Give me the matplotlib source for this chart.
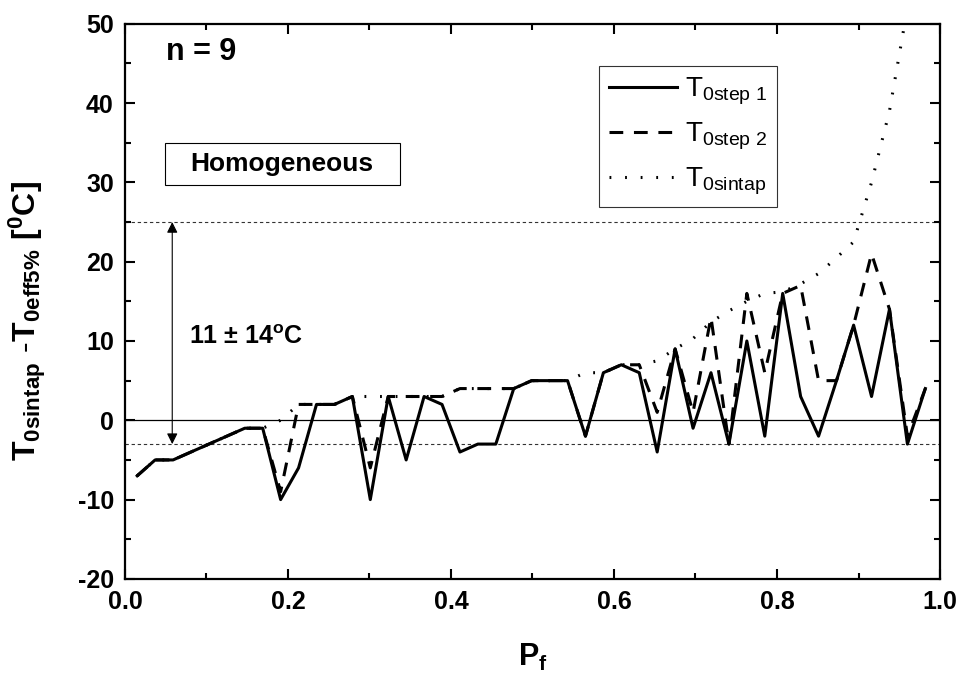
import numpy as np
import matplotlib
matplotlib.use("Agg")
import matplotlib.pyplot as plt
from matplotlib.patches import Rectangle
from matplotlib.ticker import MultipleLocator, FormatStrFormatter

plt.rcParams['font.family'] = ['Liberation Sans', 'DejaVu Sans']
plt.rcParams['font.weight'] = 'bold'
plt.rcParams['axes.unicode_minus'] = False
plt.rcParams['mathtext.fontset'] = 'custom'
plt.rcParams['mathtext.rm'] = 'Liberation Sans:weight=normal'
plt.rcParams['mathtext.bf'] = 'Liberation Sans:weight=bold'
plt.rcParams['mathtext.it'] = 'Liberation Sans:italic'

# failure probability grid
pf = [0.015, 0.037, 0.059, 0.081, 0.103, 0.125, 0.147, 0.169, 0.191, 0.213,
      0.235, 0.257, 0.279, 0.301, 0.323, 0.345, 0.367, 0.389, 0.411, 0.433,
      0.455, 0.477, 0.499, 0.521, 0.543, 0.565, 0.587, 0.609, 0.631, 0.653,
      0.675, 0.697, 0.719, 0.741, 0.763, 0.785, 0.807, 0.829, 0.851, 0.873,
      0.894, 0.916, 0.938, 0.960, 0.982]

# T0sintap - T0eff5% for each estimate [C]
t_step1 = [-7, -5, -5, -4, -3, -2, -1, -1, -10, -6,
           2, 2, 3, -10, 3, -5, 3, 2, -4, -3,
           -3, 4, 5, 5, 5, -2, 6, 7, 6, -4,
           9, -1, 6, -3, 10, -2, 16, 3, -2, 5,
           12, 3, 14, -3, 4]
t_step2 = [-7, -5, -5, -4, -3, -2, -1, -1, -9, 2,
           2, 2, 3, -6, 3, 3, 3, 3, 4, 4,
           4, 4, 5, 5, 5, -2, 6, 7, 7, 1,
           9, 1, 13, -3, 16, 6, 16, 17, 5, 5,
           12, 21, 14, -2, 4]
t_sintap = [-7, -5, -5, -4, -3, -2, -1, -1, 0, 2,
            2, 2, 3, 3, 3, 3, 3, 3, 4, 4,
            4, 4, 5, 5, 5, 6, 6, 7, 7, 7.5,
            9, 10.3, 12.4, 13.8, 15, 16, 16.2, 17.2, 18.5, 20.5,
            22.5, 30, 39, 52, np.nan]

scatter_band = (-3, 25)

fig = plt.figure(figsize=(9.65, 6.88), dpi=100)
ax = fig.add_axes([0.1295, 0.1586, 0.8446, 0.8068])

ax.axhline(0, color='black', lw=0.9, zorder=1)
for yb in scatter_band:
    ax.axhline(yb, color='#333333', lw=0.8, ls=(0, (3, 2.5)), zorder=1)

ax.plot(pf, t_sintap, color='black', lw=2.2, ls=(0, (0.6, 4.5)),
        label=r'$\mathrm{T}_{\mathrm{0sintap}}$', zorder=2)
ax.plot(pf, t_step2, color='black', lw=2.2, ls=(0, (4.5, 3.5)),
        label=r'$\mathrm{T}_{\mathrm{0step\ 2}}$', zorder=3)
ax.plot(pf, t_step1, color='black', lw=2.2, ls='-',
        label=r'$\mathrm{T}_{\mathrm{0step\ 1}}$', zorder=4)

# scatter band arrow
ax.annotate('', xy=(0.058, scatter_band[0]), xytext=(0.058, scatter_band[1]),
            arrowprops=dict(arrowstyle='<|-|>', color='black', lw=0.8,
                            mutation_scale=16, shrinkA=0, shrinkB=0))
ax.text(0.078, 10.5, r'11 ± 14$^{\mathbf{o}}$C', fontsize=18,
        fontweight='bold', va='center', ha='left')

ax.text(0.05, 46.5, 'n = 9', fontsize=22, fontweight='bold', va='center')

# framed case label
ax.add_patch(Rectangle((0.049, 29.7), 0.288, 5.3, fc='white', ec='black',
                       lw=0.8, zorder=5))
ax.text(0.193, 32.35, 'Homogeneous', fontsize=19, fontweight='bold',
        ha='center', va='center', zorder=6)

handles, labels = ax.get_legend_handles_labels()
leg = ax.legend(handles[::-1], labels[::-1], loc='upper left',
                bbox_to_anchor=(0.5816, 0.924), borderaxespad=0,
                frameon=True, fancybox=False, edgecolor='black',
                handlelength=2.45, handletextpad=0.3, labelspacing=0.5,
                borderpad=0.35,
                prop={'family': 'Liberation Sans', 'weight': 'normal', 'size': 20})
leg.get_frame().set_linewidth(0.8)

ax.set_xlim(0.0, 1.0)
ax.set_ylim(-20, 50)
ax.xaxis.set_major_locator(MultipleLocator(0.2))
ax.xaxis.set_minor_locator(MultipleLocator(0.1))
ax.yaxis.set_major_locator(MultipleLocator(10))
ax.yaxis.set_minor_locator(MultipleLocator(5))
ax.xaxis.set_major_formatter(FormatStrFormatter('%.1f'))

ax.tick_params(which='both', direction='in', top=True, right=True, width=1.5)
ax.tick_params(which='major', length=7, labelsize=18, pad=8)
ax.tick_params(which='minor', length=4)
for lab in ax.get_xticklabels() + ax.get_yticklabels():
    lab.set_fontweight('bold')
for sp in ax.spines.values():
    sp.set_linewidth(1.6)

ax.set_xlabel(r'$\mathbf{P_f}$', fontsize=22, labelpad=20)
ax.set_ylabel(r'$\mathbf{T_{0sintap}\ \text{-}T_{0eff5\%}\ [^0C]}$', fontsize=23)
ax.yaxis.set_label_coords(-0.094, 0.465)

fig.savefig('out.png', dpi=100)
